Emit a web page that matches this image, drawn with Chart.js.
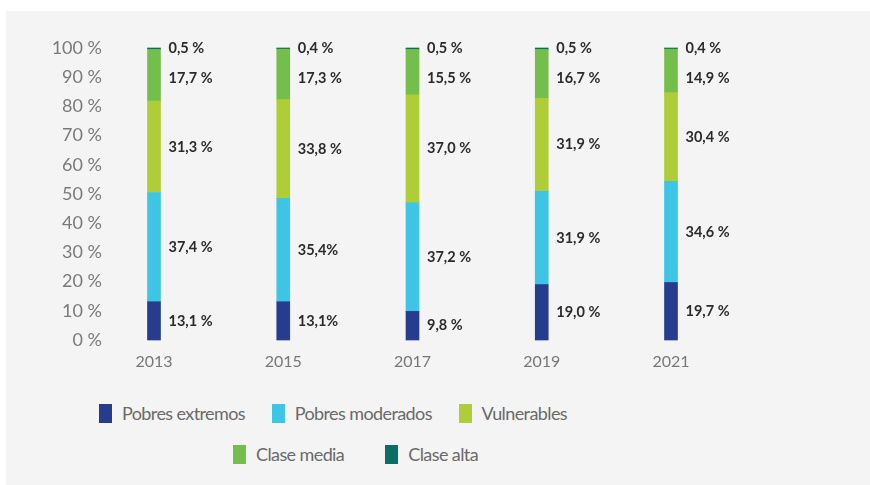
<!DOCTYPE html>
<html>
<head>
<meta charset="utf-8">
<script src="https://cdn.jsdelivr.net/npm/chart.js@4/dist/chart.umd.min.js"></script>
<style>
  body { margin: 0; background: #fff; font-family: Lato, "Open Sans", sans-serif; }
  #panel { position: absolute; left: 6px; top: 11px; width: 864px; height: 474px; background: #f4f4f4; }
  #wrap { position: absolute; left: 0; top: 0; width: 870px; height: 385px; }
  .row { position: absolute; display: flex; justify-content: space-between; }
  #row1 { left: 99px; top: 404px; width: 468px; }
  #row2 { left: 233px; top: 445px; width: 245px; }
  .item { display: flex; align-items: center; font-size: 18px; letter-spacing: -0.6px; color: #6a6a6a; line-height: 19px; }
  .box { width: 13px; height: 19px; margin-right: 10px; }
</style>
</head>
<body>
<div id="panel"></div>
<div id="wrap"><canvas id="chart"></canvas></div>
<div id="row1" class="row"></div>
<div id="row2" class="row"></div>
<script>
// datos (porcentaje de la poblacion por clase)
var years = ['2013', '2015', '2017', '2019', '2021'];
var seriesNames = ['Pobres extremos', 'Pobres moderados', 'Vulnerables', 'Clase media', 'Clase alta'];
var seriesColors = ['#253d8c', '#3ec4e4', '#afcd37', '#74bf4b', '#0a6e66'];

var pobresExtremos  = [13.1, 13.1, 9.8, 19.0, 19.7];
var pobresModerados = [37.4, 35.4, 37.2, 31.9, 34.6];
var vulnerables     = [31.3, 33.8, 37.0, 31.9, 30.4];
var claseMedia      = [17.7, 17.3, 15.5, 16.7, 14.9];
var claseAlta       = [0.5, 0.4, 0.5, 0.5, 0.4];

// etiquetas tal como aparecen en el grafico
var labelsExtremos  = ['13,1 %', '13,1%', '9,8 %', '19,0 %', '19,7 %'];
var labelsModerados = ['37,4 %', '35,4%', '37,2 %', '31,9 %', '34,6 %'];
var labelsVulner    = ['31,3 %', '33,8 %', '37,0 %', '31,9 %', '30,4 %'];
var labelsMedia     = ['17,7 %', '17,3 %', '15,5 %', '16,7 %', '14,9 %'];
var labelsAlta      = ['0,5 %', '0,4 %', '0,5 %', '0,5 %', '0,4 %'];

var yTicks = [0, 10, 20, 30, 40, 50, 60, 70, 80, 90, 100];

var allValues = [pobresExtremos, pobresModerados, vulnerables, claseMedia, claseAlta];
var allLabels = [labelsExtremos, labelsModerados, labelsVulner, labelsMedia, labelsAlta];

var datasets = seriesNames.map(function(name, i) {
    return {
        label: name,
        data: allValues[i],
        valueLabels: allLabels[i],
        backgroundColor: seriesColors[i],
        barThickness: 13,
        clip: false
    };
});

/*
  Plugin: barLabels
        Writes each value to the right of its segment, pushing
        labels down when they would run into the one above
*/
var barLabels = {
    id: 'barLabels',
    afterDatasetsDraw: function(chart) {
        var ctx = chart.ctx;
        ctx.save();
        ctx.font = 'bold 14.5px Lato, "Open Sans", sans-serif';
        ctx.fillStyle = '#2b2b2b';
        ctx.textAlign = 'left';
        ctx.textBaseline = 'middle';
        var n = chart.data.labels.length;
        for (var j = 0; j < n; j++) {
            var prevY = -1000;
            for (var i = chart.data.datasets.length - 1; i >= 0; i--) {
                var bar = chart.getDatasetMeta(i).data[j];
                var y = (bar.y + bar.base) / 2;
                if (y < prevY + 30) y = prevY + 30;
                prevY = y;
                ctx.fillText(chart.data.datasets[i].valueLabels[j], bar.x + bar.width / 2 + 8, y);
            }
        }
        ctx.restore();
    }
};

new Chart(document.getElementById('chart'), {
    type: 'bar',
    data: { labels: years, datasets: datasets },
    plugins: [barLabels],
    options: {
        responsive: true,
        maintainAspectRatio: false,
        animation: false,
        layout: { padding: { left: 50, right: 199, top: 48, bottom: 0 } },
        plugins: { legend: { display: false }, tooltip: { enabled: false } },
        scales: {
            x: {
                stacked: true,
                offset: false,
                grid: { display: false, drawTicks: false },
                border: { display: false },
                afterFit: function(axis) { axis.height = 45; },
                ticks: { padding: 12, color: '#777', font: { family: 'Lato', size: 16 } }
            },
            y: {
                stacked: true,
                min: 0,
                max: 100,
                grid: { display: false, drawTicks: false },
                border: { display: false },
                afterFit: function(axis) {
                    axis.width = 104;
                    axis.paddingTop = 0;
                    axis.paddingBottom = 0;
                },
                afterBuildTicks: function(axis) {
                    axis.ticks = yTicks.map(function(v) { return { value: v }; });
                },
                ticks: {
                    padding: 52,
                    color: '#7a7a7a',
                    font: { family: 'Lato', size: 18 },
                    callback: function(v) { return v + ' %'; }
                }
            }
        }
    }
});

// leyenda: tres entradas arriba, dos abajo
seriesNames.forEach(function(name, i) {
    var item = document.createElement('div');
    item.className = 'item';
    var box = document.createElement('span');
    box.className = 'box';
    box.style.background = seriesColors[i];
    item.appendChild(box);
    item.appendChild(document.createTextNode(name));
    document.getElementById(i < 3 ? 'row1' : 'row2').appendChild(item);
});
</script>
</body>
</html>
